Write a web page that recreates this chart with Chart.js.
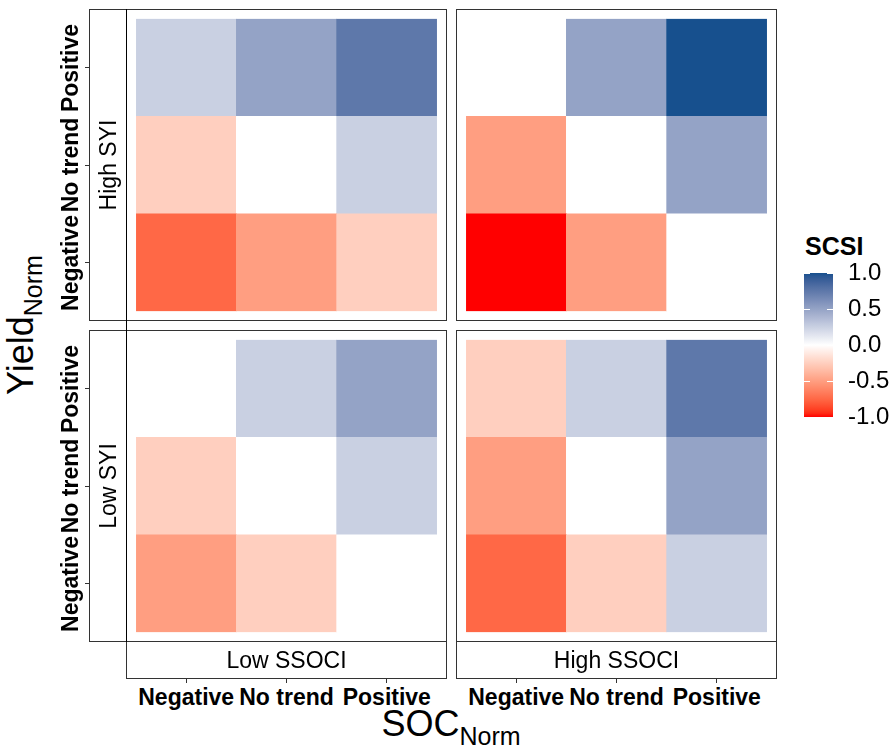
<!DOCTYPE html>
<html>
<head>
<meta charset="utf-8">
<script src="https://cdn.jsdelivr.net/npm/chart.js@4.4.0/dist/chart.umd.min.js"></script>
<style>
  body { margin: 0; background: #fff; }
  #fig { position: relative; width: 896px; height: 751px; overflow: hidden; background: #fff;
         font-family: "Liberation Sans", Arial, sans-serif; color: #000; }
  #fig canvas { position: absolute; }
  .box { position: absolute; box-sizing: border-box; border: 1px solid #333; pointer-events: none; }
  .line { position: absolute; background: #333; }
  .lbl { position: absolute; white-space: nowrap; line-height: 1; }
  .tick { font-size: 23px; font-weight: bold; }
  .strip { font-size: 23px; }
  .title { font-size: 36px; }
  .title span { font-size: 25px; position: relative; top: 9px; line-height: 0; }
</style>
</head>
<body>
<div id="fig"></div>
<script>
const socLevels = ['Negative', 'No trend', 'Positive'];
const yieldLevels = ['Negative', 'No trend', 'Positive'];
const syiGroups = ['High SYI', 'Low SYI'];
const ssociGroups = ['Low SSOCI', 'High SSOCI'];

// rows: Yield Negative -> Positive, columns: SOC Negative -> Positive
const highSyiLowSsoci  = [[-0.75, -0.5, -0.25], [-0.25, 0, 0.25], [0.25, 0.5, 0.75]];
const highSyiHighSsoci = [[-1, -0.5, 0], [-0.5, 0, 0.5], [0, 0.5, 1]];
const lowSyiLowSsoci   = [[-0.5, -0.25, 0], [-0.25, 0, 0.25], [0, 0.25, 0.5]];
const lowSyiHighSsoci  = [[-0.75, -0.25, 0.25], [-0.5, 0, 0.5], [-0.25, 0.25, 0.75]];

const legendTicks = [-1, -0.5, 0, 0.5, 1];

const lowColor = '#FF0000';
const midColor = '#FFFFFF';
const highColor = '#17508E';

// colour scale, interpolated in Lab like ggplot's gradient2
function hexToRgb(h) {
  const n = parseInt(h.slice(1), 16);
  return [(n >> 16) & 255, (n >> 8) & 255, n & 255];
}
function rgbToLab([r, g, b]) {
  const lin = c => { c /= 255; return c <= 0.04045 ? c / 12.92 : Math.pow((c + 0.055) / 1.055, 2.4); };
  const R = lin(r), G = lin(g), B = lin(b);
  const X = (0.4124 * R + 0.3576 * G + 0.1805 * B) / 0.95047;
  const Y = 0.2126 * R + 0.7152 * G + 0.0722 * B;
  const Z = (0.0193 * R + 0.1192 * G + 0.9505 * B) / 1.08883;
  const f = t => t > 0.008856 ? Math.cbrt(t) : 7.787 * t + 16 / 116;
  return [116 * f(Y) - 16, 500 * (f(X) - f(Y)), 200 * (f(Y) - f(Z))];
}
function labToRgb([L, a, b]) {
  const fy = (L + 16) / 116, fx = fy + a / 500, fz = fy - b / 200;
  const inv = t => t * t * t > 0.008856 ? t * t * t : (t - 16 / 116) / 7.787;
  const X = inv(fx) * 0.95047, Y = inv(fy), Z = inv(fz) * 1.08883;
  const R = 3.2406 * X - 1.5372 * Y - 0.4986 * Z;
  const G = -0.9689 * X + 1.8758 * Y + 0.0415 * Z;
  const B = 0.0557 * X - 0.2040 * Y + 1.0570 * Z;
  const gam = c => {
    c = c <= 0.0031308 ? 12.92 * c : 1.055 * Math.pow(c, 1 / 2.4) - 0.055;
    return Math.round(Math.min(1, Math.max(0, c)) * 255);
  };
  return [gam(R), gam(G), gam(B)];
}
const lowLab = rgbToLab(hexToRgb(lowColor));
const midLab = rgbToLab(hexToRgb(midColor));
const highLab = rgbToLab(hexToRgb(highColor));
function scsiColor(v) {
  const end = v < 0 ? lowLab : highLab;
  const t = Math.min(1, Math.abs(v));
  const rgb = labToRgb(midLab.map((m, i) => m + (end[i] - m) * t));
  return `rgb(${rgb[0]}, ${rgb[1]}, ${rgb[2]})`;
}

const fig = document.getElementById('fig');
function add(cls, style, html) {
  const d = document.createElement('div');
  d.className = cls;
  Object.assign(d.style, style);
  if (html !== undefined) d.innerHTML = html;
  fig.appendChild(d);
  return d;
}

const panelLeft = [126, 456];
const panelTop = [9, 330];
const panelW = 321, panelH = 312;
const stripSize = 38;
const expand = 0.1; // ggplot discrete expansion beyond the tiles, in level units
const panelValues = [[highSyiLowSsoci, highSyiHighSsoci], [lowSyiLowSsoci, lowSyiHighSsoci]];

function panelConfig(values) {
  // one stacked dataset per Yield level, one tile per SOC level
  const datasets = yieldLevels.map((lvl, r) => ({
    label: lvl,
    data: socLevels.map(() => 1),
    backgroundColor: values[r].map(scsiColor),
    borderWidth: 0,
    categoryPercentage: 1,
    barPercentage: 1
  }));
  const padX = panelW * expand / (socLevels.length + 2 * expand);
  const padY = panelH * expand / (yieldLevels.length + 2 * expand);
  return {
    type: 'bar',
    data: { labels: socLevels, datasets },
    options: {
      responsive: false,
      animation: false,
      devicePixelRatio: 1,
      layout: { padding: { left: padX, right: padX, top: padY, bottom: padY } },
      plugins: { legend: { display: false }, tooltip: { enabled: false } },
      scales: {
        x: { stacked: true, offset: true, display: false },
        y: { stacked: true, min: 0, max: yieldLevels.length, display: false }
      }
    }
  };
}

const charts = [];
syiGroups.forEach((syi, r) => {
  ssociGroups.forEach((ssoci, c) => {
    const cv = document.createElement('canvas');
    cv.width = panelW; cv.height = panelH;
    cv.style.left = panelLeft[c] + 'px';
    cv.style.top = panelTop[r] + 'px';
    fig.appendChild(cv);
    const chart = new Chart(cv, panelConfig(panelValues[r][c]));
    charts.push({ chart, r, c });
    add('box', { left: panelLeft[c] + 'px', top: panelTop[r] + 'px', width: panelW + 'px', height: panelH + 'px' });
  });
});

// strips
syiGroups.forEach((syi, r) => {
  const x0 = panelLeft[0] - stripSize + 1;
  add('box', { left: x0 + 'px', top: panelTop[r] + 'px', width: stripSize + 'px', height: panelH + 'px' });
  add('lbl strip', { left: (x0 + stripSize / 2) + 'px', top: (panelTop[r] + panelH / 2) + 'px',
    transform: 'translate(-50%, -50%) rotate(-90deg)' }, syi);
});
ssociGroups.forEach((ssoci, c) => {
  const y0 = panelTop[1] + panelH - 1;
  add('box', { left: panelLeft[c] + 'px', top: y0 + 'px', width: panelW + 'px', height: stripSize + 'px' });
  add('lbl strip', { left: (panelLeft[c] + panelW / 2) + 'px', top: (y0 + stripSize / 2) + 'px',
    transform: 'translate(-50%, -50%)' }, ssoci);
});
// dark axis line between strip and left panels
add('line', { left: panelLeft[0] + 'px', top: panelTop[0] + 'px', width: '1px',
  height: (panelTop[1] + panelH - panelTop[0]) + 'px', background: '#000' });

// tick marks and labels from the chart scales
charts.forEach(({ chart, r, c }) => {
  if (c === 0) {
    const ys = chart.scales.y;
    const stripLeft = panelLeft[0] - stripSize + 1;
    yieldLevels.forEach((lvl, i) => {
      const y = panelTop[r] + ys.getPixelForValue(i + 0.5);
      add('line', { left: (stripLeft - 4) + 'px', top: (y - 0.5) + 'px', width: '4px', height: '1px' });
      add('lbl tick', { left: '69.5px', top: y + 'px', transform: 'translate(-50%, -50%) rotate(-90deg)' }, lvl);
    });
  }
  if (r === 1) {
    const xs = chart.scales.x;
    const stripBottom = panelTop[1] + panelH - 1 + stripSize;
    socLevels.forEach((lvl, i) => {
      const x = panelLeft[c] + xs.getPixelForValue(i);
      add('line', { left: (x - 0.5) + 'px', top: stripBottom + 'px', width: '1px', height: '4px' });
      add('lbl tick', { left: x + 'px', top: '697px', transform: 'translate(-50%, -50%)' }, lvl);
    });
  }
});

// axis titles
add('lbl title', { left: '451px', top: '706px', transform: 'translateX(-50%)' }, 'SOC<span>Norm</span>');
add('lbl title', { left: '21px', top: '325px', transform: 'translate(-50%, -50%) rotate(-90deg)' }, 'Yield<span>Norm</span>');

// colourbar legend
add('lbl', { left: '805px', top: '234px', fontSize: '25px', fontWeight: 'bold' }, 'SCSI');
const lc = document.createElement('canvas');
lc.width = 116; lc.height = 200;
lc.style.left = '780px'; lc.style.top = '245px';
fig.appendChild(lc);

const barTicks = {
  id: 'barTicks',
  afterDatasetsDraw(chart) {
    const { ctx, chartArea } = chart;
    const ys = chart.scales.y;
    ctx.save();
    ctx.strokeStyle = '#fff';
    ctx.lineWidth = 1;
    legendTicks.forEach(v => {
      const y = Math.round(ys.getPixelForValue(v)) + 0.5;
      ctx.beginPath();
      ctx.moveTo(chartArea.left, y); ctx.lineTo(chartArea.left + 6, y);
      ctx.moveTo(chartArea.right - 6, y); ctx.lineTo(chartArea.right, y);
      ctx.stroke();
    });
    ctx.restore();
  }
};

new Chart(lc, {
  type: 'bar',
  data: {
    labels: ['SCSI'],
    datasets: [{
      data: [[-1, 1]],
      borderWidth: 0,
      categoryPercentage: 1,
      barPercentage: 1,
      backgroundColor: (ctx) => {
        const chart = ctx.chart;
        const ys = chart.scales.y;
        if (!chart.chartArea || !ys) return scsiColor(0);
        const g = chart.ctx.createLinearGradient(0, ys.getPixelForValue(-1), 0, ys.getPixelForValue(1));
        for (let i = 0; i <= 40; i++) g.addColorStop(i / 40, scsiColor(-1 + i / 20));
        return g;
      }
    }]
  },
  options: {
    responsive: false,
    animation: false,
    devicePixelRatio: 1,
    layout: { padding: { left: 24, top: 28, bottom: 28, right: 0 } },
    plugins: { legend: { display: false }, tooltip: { enabled: false } },
    scales: {
      x: { display: false },
      y: {
        position: 'right',
        min: -1, max: 1,
        afterBuildTicks: s => { s.ticks = legendTicks.map(v => ({ value: v })); },
        afterFit: s => { s.width = 63; s.paddingTop = 0; s.paddingBottom = 0; },
        grid: { display: false, drawTicks: false },
        border: { display: false },
        ticks: {
          padding: 15,
          color: '#000',
          font: { family: '"Liberation Sans", Arial, sans-serif', size: 24 },
          callback: v => v.toFixed(1)
        }
      }
    }
  },
  plugins: [barTicks]
});
</script>
</body>
</html>
